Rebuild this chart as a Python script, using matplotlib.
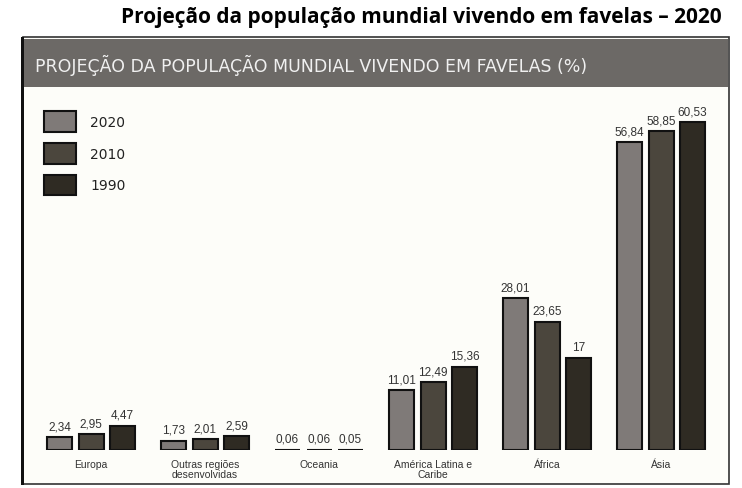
import matplotlib
matplotlib.use("Agg")
import matplotlib.pyplot as plt
from matplotlib.patches import Rectangle
import numpy as np

categories = ["Europa", "Outras regiões\ndesenvolvidas", "Oceania", "América Latina e\nCaribe", "África", "Ásia"]
years = ["2020", "2010", "1990"]
v2020 = [2.34, 1.73, 0.06, 11.01, 28.01, 56.84]
v2010 = [2.95, 2.01, 0.06, 12.49, 23.65, 58.85]
v1990 = [4.47, 2.59, 0.05, 15.36, 17, 60.53]
series = [v2020, v2010, v1990]
colors = ["#7f7a78", "#4b463d", "#2f2b23"]

W, H = 742, 489
fig = plt.figure(figsize=(W / 100, H / 100), dpi=100)
fig.patch.set_facecolor("white")

def fx(px):
    return px / W

def fy(py):
    return 1 - py / H

# outer frame
fig.patches.append(Rectangle((fx(23), fy(485)), fx(729) - fx(23), fy(38) - fy(485),
                             transform=fig.transFigure, facecolor="#fdfdf9",
                             edgecolor="#333333", lw=1.2, zorder=-3))
fig.patches.append(Rectangle((fx(21), fy(486)), fx(3), fy(38) - fy(486),
                             transform=fig.transFigure, facecolor="#111111",
                             edgecolor="none", zorder=-2))
# header band
fig.patches.append(Rectangle((fx(24), fy(88)), fx(728) - fx(24), fy(40) - fy(88),
                             transform=fig.transFigure, facecolor="#6c6966",
                             edgecolor="none", zorder=-2))
fig.text(fx(35), fy(65), "PROJEÇÃO DA POPULAÇÃO MUNDIAL VIVENDO EM FAVELAS (%)",
         color="#f0f0f0", fontsize=12.5, va="center", ha="left",
         family=["DejaVu Sans"])

fig.text(fx(421), fy(18), "Projeção da população mundial vivendo em favelas – 2020",
         fontsize=15, fontweight="bold", ha="center", va="center",
         family=["Open Sans", "DejaVu Sans"])

ax = fig.add_axes([fx(24), 38 / H, fx(728) - fx(24), (399 - 38) / H])
ax.set_zorder(2)
ax.set_facecolor("none")
for s in ax.spines.values():
    s.set_visible(False)
ax.set_xticks([])
ax.set_yticks([])

x = np.arange(len(categories))
unit = 114.0
ax.set_xlim((24 - 91) / unit, (728 - 91) / unit)
ax.set_ylim(0, 361 / 5.42)
bw = 25 / unit
off = 31.5 / unit

for i, (vals, c, yr) in enumerate(zip(series, colors, years)):
    xs = x + (i - 1) * off
    ax.bar(xs, vals, width=bw, color=c, edgecolor="#111111", linewidth=1.5, label=yr)
    for xi, v in zip(xs, vals):
        ax.text(xi, v + 0.9, f"{v:g}".replace(".", ","), ha="center", va="bottom",
                fontsize=8.5, color="#333333", family=["Liberation Sans", "DejaVu Sans"])

for xi, cat in zip(x, categories):
    ax.text(xi, -1.6, cat, ha="center", va="top", fontsize=7.5, color="#333333",
            linespacing=1.0, family=["Liberation Sans", "DejaVu Sans"], clip_on=False)

leg = ax.legend(loc="upper left", bbox_to_anchor=(0.015, 0.965), frameon=False,
                handlelength=2.3, handleheight=1.9, labelspacing=0.8,
                fontsize=10, handletextpad=1.0, borderaxespad=0.3)
for t in leg.get_texts():
    t.set_color("#222222")

fig.savefig("out.png", dpi=100, facecolor="white")
